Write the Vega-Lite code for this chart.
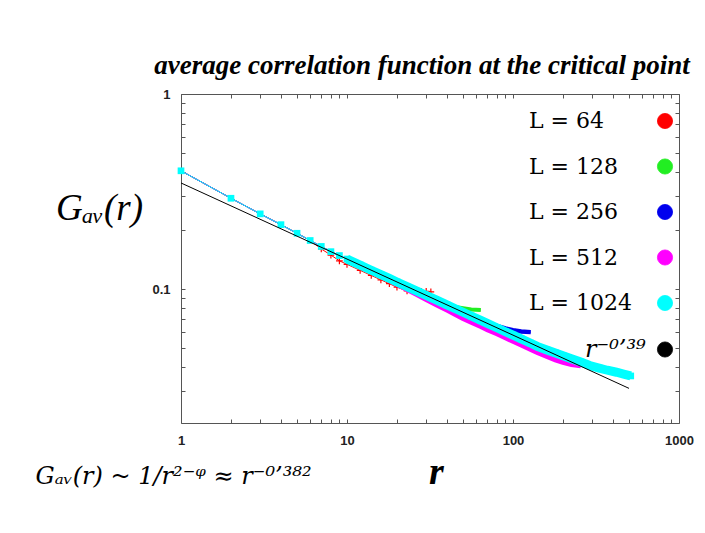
{
  "$schema": "https://vega.github.io/schema/vega-lite/v6.json",
  "width": 498,
  "height": 329,
  "autosize": {"type": "none"},
  "padding": {"left": 181, "top": 94, "right": 26, "bottom": 110},
  "background": "white",
  "config": {
    "view": {"stroke": null},
    "axis": {
      "domainColor": "#555",
      "tickColor": "#555",
      "tickSize": -4,
      "grid": false,
      "labelFont": "Liberation Sans",
      "labelFontSize": 13,
      "labelFontWeight": "bold",
      "labelColor": "#222",
      "labelFlush": false,
      "labelOverlap": false,
      "titleColor": "black"
    }
  },
  "title": {
    "text": "average correlation function at the critical point",
    "font": "Liberation Serif",
    "fontSize": 27,
    "fontStyle": "italic",
    "fontWeight": "bold",
    "color": "black",
    "anchor": "middle",
    "offset": 8,
    "dx": -8
  },
  "data": {
    "values": [
      {"s": "L = 64", "r": 1, "g": 0.404}, {"s": "L = 64", "r": 2, "g": 0.2922}, {"s": "L = 64", "r": 3, "g": 0.243}, {"s": "L = 64", "r": 4, "g": 0.214}, {"s": "L = 64", "r": 5, "g": 0.1933}, {"s": "L = 64", "r": 6, "g": 0.1775}, {"s": "L = 64", "r": 7, "g": 0.1606}, {"s": "L = 64", "r": 8, "g": 0.1494}, {"s": "L = 64", "r": 9, "g": 0.1397}, {"s": "L = 64", "r": 10, "g": 0.134}, {"s": "L = 64", "r": 12, "g": 0.1248}, {"s": "L = 64", "r": 14, "g": 0.1175}, {"s": "L = 64", "r": 16, "g": 0.1116}, {"s": "L = 64", "r": 18, "g": 0.1066}, {"s": "L = 64", "r": 20, "g": 0.1023}, {"s": "L = 64", "r": 23, "g": 0.0979}, {"s": "L = 64", "r": 26, "g": 0.0962}, {"s": "L = 64", "r": 28, "g": 0.0973}, {"s": "L = 64", "r": 30, "g": 0.0975}, {"s": "L = 64", "r": 32, "g": 0.0969},

      {"s": "L = 128", "r": 1, "g": 0.404}, {"s": "L = 128", "r": 2, "g": 0.2922}, {"s": "L = 128", "r": 3, "g": 0.243}, {"s": "L = 128", "r": 4, "g": 0.214}, {"s": "L = 128", "r": 5, "g": 0.1933}, {"s": "L = 128", "r": 6, "g": 0.1775}, {"s": "L = 128", "r": 7, "g": 0.1655}, {"s": "L = 128", "r": 8, "g": 0.1556}, {"s": "L = 128", "r": 9, "g": 0.1486}, {"s": "L = 128", "r": 10, "g": 0.1426}, {"s": "L = 128", "r": 12, "g": 0.1328}, {"s": "L = 128", "r": 14, "g": 0.125}, {"s": "L = 128", "r": 16, "g": 0.1187}, {"s": "L = 128", "r": 18, "g": 0.1134}, {"s": "L = 128", "r": 20, "g": 0.1088}, {"s": "L = 128", "r": 23, "g": 0.103}, {"s": "L = 128", "r": 26, "g": 0.0982}, {"s": "L = 128", "r": 30, "g": 0.0929}, {"s": "L = 128", "r": 35, "g": 0.0875}, {"s": "L = 128", "r": 40, "g": 0.0835}, {"s": "L = 128", "r": 45, "g": 0.0809}, {"s": "L = 128", "r": 50, "g": 0.0799}, {"s": "L = 128", "r": 56, "g": 0.0786}, {"s": "L = 128", "r": 64, "g": 0.0781},

      {"s": "L = 256", "r": 1, "g": 0.404}, {"s": "L = 256", "r": 2, "g": 0.2922}, {"s": "L = 256", "r": 3, "g": 0.243}, {"s": "L = 256", "r": 4, "g": 0.214}, {"s": "L = 256", "r": 5, "g": 0.1933}, {"s": "L = 256", "r": 6, "g": 0.1775}, {"s": "L = 256", "r": 7, "g": 0.1655}, {"s": "L = 256", "r": 8, "g": 0.1556}, {"s": "L = 256", "r": 9, "g": 0.1486}, {"s": "L = 256", "r": 10, "g": 0.1426}, {"s": "L = 256", "r": 12, "g": 0.1328}, {"s": "L = 256", "r": 14, "g": 0.125}, {"s": "L = 256", "r": 16, "g": 0.1187}, {"s": "L = 256", "r": 18, "g": 0.1134}, {"s": "L = 256", "r": 20, "g": 0.1088}, {"s": "L = 256", "r": 23, "g": 0.103}, {"s": "L = 256", "r": 26, "g": 0.0982}, {"s": "L = 256", "r": 30, "g": 0.0929}, {"s": "L = 256", "r": 35, "g": 0.0875}, {"s": "L = 256", "r": 40, "g": 0.083}, {"s": "L = 256", "r": 45, "g": 0.0793}, {"s": "L = 256", "r": 50, "g": 0.0761}, {"s": "L = 256", "r": 56, "g": 0.0728}, {"s": "L = 256", "r": 64, "g": 0.0691}, {"s": "L = 256", "r": 70, "g": 0.0667}, {"s": "L = 256", "r": 80, "g": 0.0647}, {"s": "L = 256", "r": 90, "g": 0.0629}, {"s": "L = 256", "r": 100, "g": 0.0616}, {"s": "L = 256", "r": 112, "g": 0.0606}, {"s": "L = 256", "r": 128, "g": 0.0602},

      {"s": "L = 512", "r": 1, "g": 0.404}, {"s": "L = 512", "r": 2, "g": 0.2922}, {"s": "L = 512", "r": 3, "g": 0.243}, {"s": "L = 512", "r": 4, "g": 0.214}, {"s": "L = 512", "r": 5, "g": 0.1933}, {"s": "L = 512", "r": 6, "g": 0.1775}, {"s": "L = 512", "r": 7, "g": 0.1655}, {"s": "L = 512", "r": 8, "g": 0.1556}, {"s": "L = 512", "r": 9, "g": 0.1486}, {"s": "L = 512", "r": 10, "g": 0.1426}, {"s": "L = 512", "r": 12, "g": 0.1321}, {"s": "L = 512", "r": 14, "g": 0.1238}, {"s": "L = 512", "r": 16, "g": 0.1169}, {"s": "L = 512", "r": 18, "g": 0.1111}, {"s": "L = 512", "r": 20, "g": 0.106}, {"s": "L = 512", "r": 23, "g": 0.0994}, {"s": "L = 512", "r": 26, "g": 0.0943}, {"s": "L = 512", "r": 30, "g": 0.0885}, {"s": "L = 512", "r": 35, "g": 0.0827}, {"s": "L = 512", "r": 40, "g": 0.0781}, {"s": "L = 512", "r": 45, "g": 0.0741}, {"s": "L = 512", "r": 50, "g": 0.0708}, {"s": "L = 512", "r": 56, "g": 0.0677}, {"s": "L = 512", "r": 64, "g": 0.0643}, {"s": "L = 512", "r": 70, "g": 0.062}, {"s": "L = 512", "r": 80, "g": 0.059}, {"s": "L = 512", "r": 90, "g": 0.0563}, {"s": "L = 512", "r": 100, "g": 0.054}, {"s": "L = 512", "r": 112, "g": 0.0517}, {"s": "L = 512", "r": 128, "g": 0.0491}, {"s": "L = 512", "r": 140, "g": 0.0473}, {"s": "L = 512", "r": 160, "g": 0.0452}, {"s": "L = 512", "r": 180, "g": 0.0434}, {"s": "L = 512", "r": 200, "g": 0.0421}, {"s": "L = 512", "r": 225, "g": 0.0411}, {"s": "L = 512", "r": 256, "g": 0.0405},

      {"s": "L = 1024", "r": 1, "g": 0.404}, {"s": "L = 1024", "r": 2, "g": 0.2922}, {"s": "L = 1024", "r": 3, "g": 0.243}, {"s": "L = 1024", "r": 4, "g": 0.214}, {"s": "L = 1024", "r": 5, "g": 0.1933}, {"s": "L = 1024", "r": 6, "g": 0.1775}, {"s": "L = 1024", "r": 7, "g": 0.1655}, {"s": "L = 1024", "r": 8, "g": 0.1556}, {"s": "L = 1024", "r": 9, "g": 0.1486}, {"s": "L = 1024", "r": 10, "g": 0.1426}, {"s": "L = 1024", "r": 12, "g": 0.1328}, {"s": "L = 1024", "r": 14, "g": 0.125}, {"s": "L = 1024", "r": 16, "g": 0.1187}, {"s": "L = 1024", "r": 18, "g": 0.1134}, {"s": "L = 1024", "r": 20, "g": 0.1088}, {"s": "L = 1024", "r": 23, "g": 0.103}, {"s": "L = 1024", "r": 26, "g": 0.0982}, {"s": "L = 1024", "r": 30, "g": 0.0929}, {"s": "L = 1024", "r": 35, "g": 0.0875}, {"s": "L = 1024", "r": 40, "g": 0.083}, {"s": "L = 1024", "r": 45, "g": 0.0793}, {"s": "L = 1024", "r": 50, "g": 0.0761}, {"s": "L = 1024", "r": 56, "g": 0.0728}, {"s": "L = 1024", "r": 64, "g": 0.0691}, {"s": "L = 1024", "r": 70, "g": 0.0667}, {"s": "L = 1024", "r": 80, "g": 0.0634}, {"s": "L = 1024", "r": 90, "g": 0.0605}, {"s": "L = 1024", "r": 100, "g": 0.0581}, {"s": "L = 1024", "r": 112, "g": 0.0556}, {"s": "L = 1024", "r": 128, "g": 0.0528}, {"s": "L = 1024", "r": 140, "g": 0.0509}, {"s": "L = 1024", "r": 160, "g": 0.0488}, {"s": "L = 1024", "r": 180, "g": 0.0471}, {"s": "L = 1024", "r": 200, "g": 0.0456}, {"s": "L = 1024", "r": 225, "g": 0.044}, {"s": "L = 1024", "r": 256, "g": 0.0423}, {"s": "L = 1024", "r": 290, "g": 0.0406}, {"s": "L = 1024", "r": 330, "g": 0.0394}, {"s": "L = 1024", "r": 370, "g": 0.0384}, {"s": "L = 1024", "r": 420, "g": 0.0375}, {"s": "L = 1024", "r": 470, "g": 0.0366}, {"s": "L = 1024", "r": 512, "g": 0.0359},

      {"s": "r⁻⁰’³⁹", "r": 1, "g": 0.35}, {"s": "r⁻⁰’³⁹", "r": 2, "g": 0.2671}, {"s": "r⁻⁰’³⁹", "r": 5, "g": 0.1868}, {"s": "r⁻⁰’³⁹", "r": 10, "g": 0.1426}, {"s": "r⁻⁰’³⁹", "r": 20, "g": 0.1088}, {"s": "r⁻⁰’³⁹", "r": 50, "g": 0.0761}, {"s": "r⁻⁰’³⁹", "r": 100, "g": 0.0581}, {"s": "r⁻⁰’³⁹", "r": 200, "g": 0.0443}, {"s": "r⁻⁰’³⁹", "r": 500, "g": 0.031}
    ]
  },
  "resolve": {"axis": {"x": "independent", "y": "independent"}},
  "encoding": {
    "x": {"field": "r", "type": "quantitative", "scale": {"type": "log", "domain": [1, 1000], "nice": false}, "axis": null},
    "y": {"field": "g", "type": "quantitative", "scale": {"type": "log", "domain": [0.0206, 1], "nice": false}, "axis": null},
    "color": {
      "field": "s",
      "type": "nominal",
      "scale": {
        "domain": ["L = 64", "L = 128", "L = 256", "L = 512", "L = 1024", "r⁻⁰’³⁹"],
        "range": ["#ff0000", "#22ee22", "#0000ee", "#ff00ff", "#00ffff", "#000000"]
      },
      "legend": {
        "title": null,
        "orient": "none",
        "legendX": 473,
        "legendY": 16,
        "padding": 0,
        "labelFont": "DejaVu Serif",
        "labelFontSize": 22,
        "labelColor": "black",
        "labelAlign": "left",
        "labelOffset": -147,
        "labelLimit": 300,
        "rowPadding": 23.5,
        "symbolType": "circle",
        "symbolSize": 230,
        "encode": {
          "symbols": {
            "update": {
              "fill": {"scale": "color", "field": "value"},
              "stroke": {"value": "#444"},
              "strokeWidth": {"value": 0.8},
              "opacity": {"value": 1},
              "shape": {"value": "circle"}
            }
          },
          "labels": {
            "update": {
              "dx": {"signal": "datum.index == 5 ? 56 : 0"},
              "fontStyle": {"signal": "datum.index == 5 ? 'italic' : 'normal'"},
              "fontSize": {"signal": "datum.index == 5 ? 24 : 22"}
            }
          }
        }
      }
    }
  },
  "layer": [
    {
      "transform": [{"filter": {"field": "s", "oneOf": ["L = 64", "L = 128", "L = 256", "L = 512", "L = 1024"]}}],
      "mark": {"type": "line", "strokeWidth": 1},
      "encoding": {
        "x": {
          "field": "r", "type": "quantitative",
          "scale": {"type": "log", "domain": [1, 1000], "nice": false},
          "axis": {
            "orient": "bottom",
            "values": [1, 2, 3, 4, 5, 6, 7, 8, 9, 10, 20, 30, 40, 50, 60, 70, 80, 90, 100, 200, 300, 400, 500, 600, 700, 800, 900, 1000],
            "labelExpr": "datum.value == 1 ? '1' : datum.value == 10 ? '10' : datum.value == 100 ? '100' : datum.value == 1000 ? '1000' : ''",
            "labelPadding": 15,
            "title": "r",
            "titleFont": "Liberation Serif",
            "titleFontSize": 38,
            "titleFontStyle": "italic",
            "titleFontWeight": "bold",
            "titleAlign": "center",
            "titleBaseline": "alphabetic",
            "titleX": 255,
            "titleY": 60
          }
        },
        "y": {
          "field": "g", "type": "quantitative",
          "scale": {"type": "log", "domain": [0.0206, 1], "nice": false},
          "axis": {
            "orient": "left",
            "values": [0.03, 0.04, 0.05, 0.06, 0.07, 0.08, 0.09, 0.1, 0.2, 0.3, 0.4, 0.5, 0.6, 0.7, 0.8, 0.9, 1],
            "labelExpr": "datum.value == 1 ? '1' : datum.value == 0.1 ? '0.1' : ''",
            "labelPadding": 15,
            "title": "Gₐᵥ(r)",
            "titleFont": "Liberation Serif",
            "titleFontSize": 37,
            "titleFontStyle": "italic",
            "titleFontWeight": "normal",
            "titleAngle": 0,
            "titleAlign": "center",
            "titleBaseline": "alphabetic",
            "titleX": -82,
            "titleY": 125
          }
        }
      }
    },
    {
      "transform": [{"filter": {"and": [{"field": "s", "equal": "L = 64"}, {"field": "r", "gte": 7}]}}],
      "mark": {"type": "point", "shape": "M-1,0L1,0M0,-1L0,1", "filled": false, "size": 45, "strokeWidth": 1.2, "opacity": 1}
    },
    {
      "transform": [{"filter": {"and": [{"field": "s", "equal": "L = 128"}, {"field": "r", "gte": 10}]}}],
      "mark": {"type": "line", "strokeWidth": 4}
    },
    {
      "transform": [{"filter": {"and": [{"field": "s", "equal": "L = 256"}, {"field": "r", "gte": 10}]}}],
      "mark": {"type": "line", "strokeWidth": 4.5}
    },
    {
      "transform": [{"filter": {"and": [{"field": "s", "equal": "L = 512"}, {"field": "r", "gte": 10}]}}],
      "mark": {"type": "line", "strokeWidth": 5}
    },
    {
      "transform": [{"filter": {"and": [{"field": "s", "equal": "L = 1024"}, {"field": "r", "gte": 10}]}}],
      "mark": {"type": "line", "strokeWidth": 9}
    },
    {
      "transform": [{"filter": {"field": "s", "equal": "L = 1024"}}],
      "mark": {"type": "point", "shape": "square", "filled": true, "size": 45, "opacity": 1}
    },
    {
      "transform": [{"filter": {"field": "s", "equal": "r⁻⁰’³⁹"}}],
      "mark": {"type": "line", "strokeWidth": 1},
      "encoding": {
        "x": {
          "field": "r", "type": "quantitative",
          "scale": {"type": "log", "domain": [1, 1000], "nice": false},
          "axis": {
            "orient": "top",
            "values": [1, 2, 3, 4, 5, 6, 7, 8, 9, 10, 20, 30, 40, 50, 60, 70, 80, 90, 100, 200, 300, 400, 500, 600, 700, 800, 900, 1000],
            "labels": false,
            "title": null
          }
        },
        "y": {
          "field": "g", "type": "quantitative",
          "scale": {"type": "log", "domain": [0.0206, 1], "nice": false},
          "axis": {
            "orient": "right",
            "values": [0.03, 0.04, 0.05, 0.06, 0.07, 0.08, 0.09, 0.1, 0.2, 0.3, 0.4, 0.5, 0.6, 0.7, 0.8, 0.9, 1],
            "labels": false,
            "title": "Gₐᵥ(r) ~ 1/r²⁻ᵠ ≈ r⁻⁰’³⁸²",
            "titleFont": "DejaVu Serif",
            "titleFontSize": 24,
            "titleFontStyle": "italic",
            "titleFontWeight": "normal",
            "titleAngle": 0,
            "titleAlign": "left",
            "titleBaseline": "alphabetic",
            "titleX": -644,
            "titleY": 389
          }
        }
      }
    }
  ]
}
